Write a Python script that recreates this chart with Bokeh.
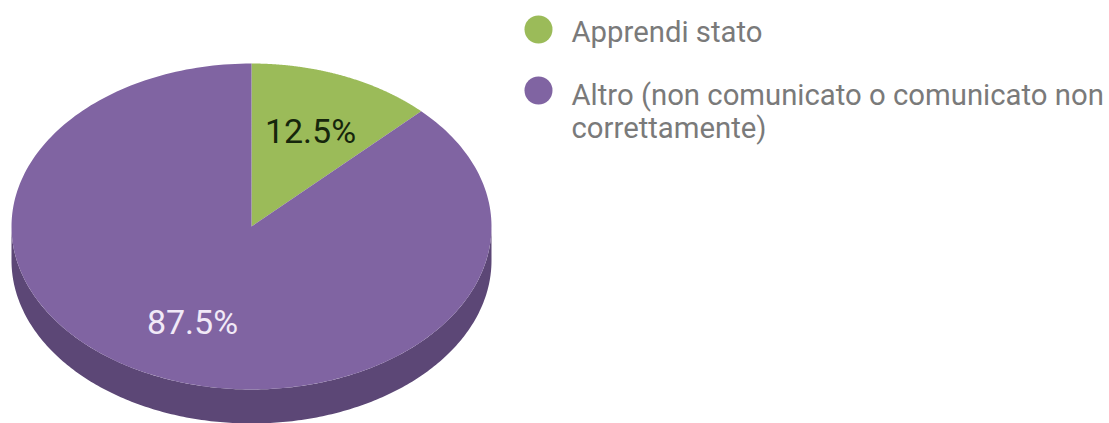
import math
from bokeh.plotting import figure
from bokeh.models import Range1d
from bokeh.core.properties import value
from bokeh.embed import file_html
from bokeh.resources import INLINE

labels = ["Apprendi stato", "Altro (non comunicato o comunicato non", "correttamente)"]
shares = [12.5, 87.5]
pct_labels = ["12.5%", "87.5%"]
colors = ["#9bbb59", "#8064a2"]
side_color = "#5c4776"
text_colors = ["#16260c", "#f1e9f7"]

W, H = 1109, 423
p = figure(width=W, height=H, x_range=Range1d(0, W), y_range=Range1d(H, 0),
           output_backend="svg", toolbar_location=None,
           min_border=0, min_border_left=0, min_border_right=0, min_border_top=0, min_border_bottom=0,
           outline_line_color=None, background_fill_color="white", border_fill_color="white")
p.axis.visible = False
p.grid.visible = False

cx, cy, rx, ry, depth = 251, 226, 240, 163, 34
N = 240

def arc(a0, a1, n=N):
    return [(cx + rx * math.sin(a0 + (a1 - a0) * i / n), cy - ry * math.cos(a0 + (a1 - a0) * i / n)) for i in range(n + 1)]

# side wall
low = arc(math.pi / 2, 3 * math.pi / 2)
xs = [q[0] for q in low] + [q[0] for q in reversed(low)]
ys = [q[1] for q in low] + [q[1] + depth for q in reversed(low)]
p.patch(xs, ys, fill_color=side_color, line_color=None)

# top slices
start = 0.0
for s, c in zip(shares, colors):
    a = 2 * math.pi * s / 100
    pts = arc(start, start + a)
    p.patch([cx] + [q[0] for q in pts], [cy] + [q[1] for q in pts], fill_color=c, line_color=None)
    start += a

font = value("Roboto")
p.text([310], [130], text=[pct_labels[0]], text_font=font, text_font_size="34px", text_color=text_colors[0], text_align="center", text_baseline="middle")
p.text([192], [321], text=[pct_labels[1]], text_font=font, text_font_size="34px", text_color=text_colors[1], text_align="center", text_baseline="middle")

p.scatter([538, 538], [29, 90], size=28, marker="circle", fill_color=colors, line_color=None)
p.text([571, 571, 571], [31, 94, 127], text=labels, text_font=font, text_font_size="29.3px", text_color="#7a7a7a", text_align="left", text_baseline="middle")

open("out.html", "w").write(file_html(p, INLINE))
